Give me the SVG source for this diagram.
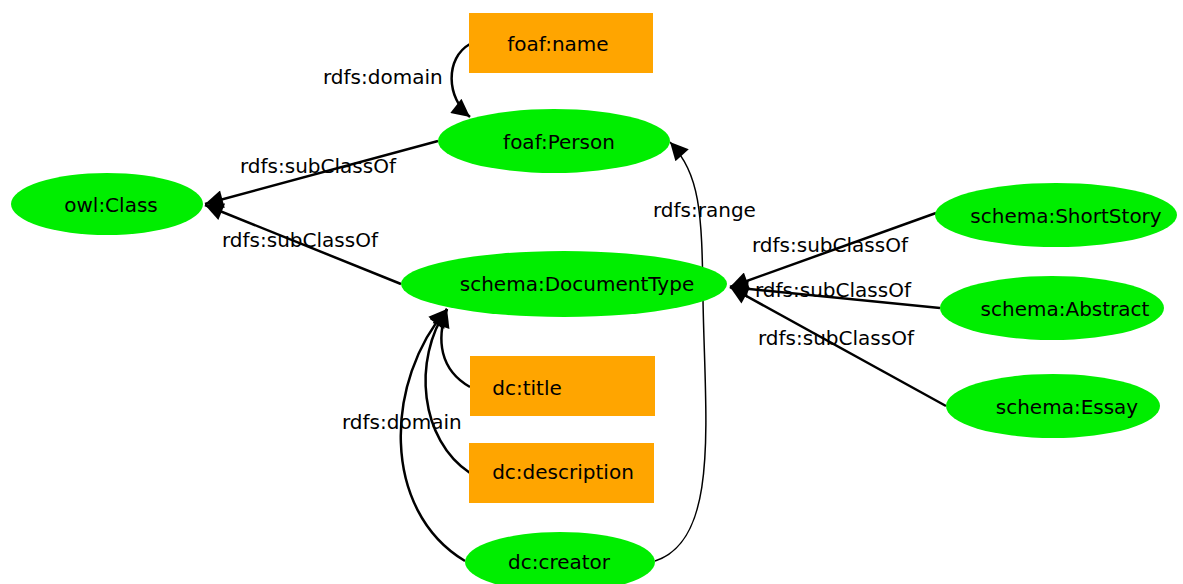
<svg xmlns="http://www.w3.org/2000/svg" width="1183" height="584" viewBox="0 0 1183 584">
  <style>
    text { font-family: "DejaVu Sans", sans-serif; font-size: 20px; fill: #000; }
    .node text { text-anchor: middle; dominant-baseline: central; }
    .cls { fill: #00ee00; stroke: none; }
    .prop { fill: #ffa500; stroke: none; }
    .edge { fill: none; stroke: #000; stroke-width: 2.5; }
    .thin { stroke-width: 1.5; }
  </style>
  <defs>
    <marker id="arrowL" viewBox="0 0 10 10" refX="10" refY="5" markerWidth="24" markerHeight="18" markerUnits="userSpaceOnUse" orient="auto">
      <path d="M0,0 L10,5 L0,10 z" fill="#000"/>
    </marker>
  </defs>

  <!-- connectors -->
  <g id="edges">
    <path class="edge" marker-end="url(#arrowL)" d="M470,44 C445,58 446,98 470,117"/>
    <path class="edge" marker-end="url(#arrowL)" d="M438,141 L205,204"/>
    <path class="edge" marker-end="url(#arrowL)" d="M401,284 L205,205"/>
    <path class="edge" marker-end="url(#arrowL)" d="M936,213 L730,287"/>
    <path class="edge" marker-end="url(#arrowL)" d="M940,308 L730,287"/>
    <path class="edge" marker-end="url(#arrowL)" d="M946,406 L730,287"/>
    <path class="edge" marker-end="url(#arrowL)" d="M470,387 C440,370 436,340 447,309"/>
    <path class="edge" marker-end="url(#arrowL)" d="M470,473 C420,440 412,360 447,309"/>
    <path class="edge" marker-end="url(#arrowL)" d="M465,561 C380,510 385,380 447,309"/>
    <path class="edge thin" marker-end="url(#arrowL)" d="M655,561 C720,540 705,420 703,300 C702,210 700,175 670,142"/>

    <text x="323" y="84">rdfs:domain</text>
    <text x="240" y="173">rdfs:subClassOf</text>
    <text x="222" y="247">rdfs:subClassOf</text>
    <text x="653" y="217">rdfs:range</text>
    <text x="752" y="252">rdfs:subClassOf</text>
    <text x="755" y="297">rdfs:subClassOf</text>
    <text x="758" y="345">rdfs:subClassOf</text>
    <text x="342" y="429">rdfs:domain</text>
  </g>

  <g id="foaf-name" class="node">
    <rect class="prop" x="469" y="13" width="184" height="60"/>
    <text x="558" y="44">foaf:name</text>
  </g>
  <g id="foaf-Person" class="node">
    <ellipse class="cls" cx="554" cy="141" rx="116" ry="32"/>
    <text x="559" y="142">foaf:Person</text>
  </g>
  <g id="owl-Class" class="node">
    <ellipse class="cls" cx="107" cy="204" rx="96" ry="31"/>
    <text x="111" y="205">owl:Class</text>
  </g>
  <g id="schema-DocumentType" class="node">
    <ellipse class="cls" cx="564" cy="284" rx="163" ry="33"/>
    <text x="577" y="284">schema:DocumentType</text>
  </g>
  <g id="schema-ShortStory" class="node">
    <ellipse class="cls" cx="1056" cy="215" rx="121" ry="32"/>
    <text x="1066" y="216">schema:ShortStory</text>
  </g>
  <g id="schema-Abstract" class="node">
    <ellipse class="cls" cx="1052" cy="308" rx="112" ry="32"/>
    <text x="1065" y="309">schema:Abstract</text>
  </g>
  <g id="schema-Essay" class="node">
    <ellipse class="cls" cx="1053" cy="406" rx="107" ry="32"/>
    <text x="1067" y="407">schema:Essay</text>
  </g>
  <g id="dc-title" class="node">
    <rect class="prop" x="470" y="356" width="185" height="60"/>
    <text x="527" y="388">dc:title</text>
  </g>
  <g id="dc-description" class="node">
    <rect class="prop" x="469" y="443" width="185" height="60"/>
    <text x="563" y="472">dc:description</text>
  </g>
  <g id="dc-creator" class="node">
    <ellipse class="cls" cx="560" cy="562" rx="95" ry="30"/>
    <text x="559" y="562">dc:creator</text>
  </g>
</svg>
